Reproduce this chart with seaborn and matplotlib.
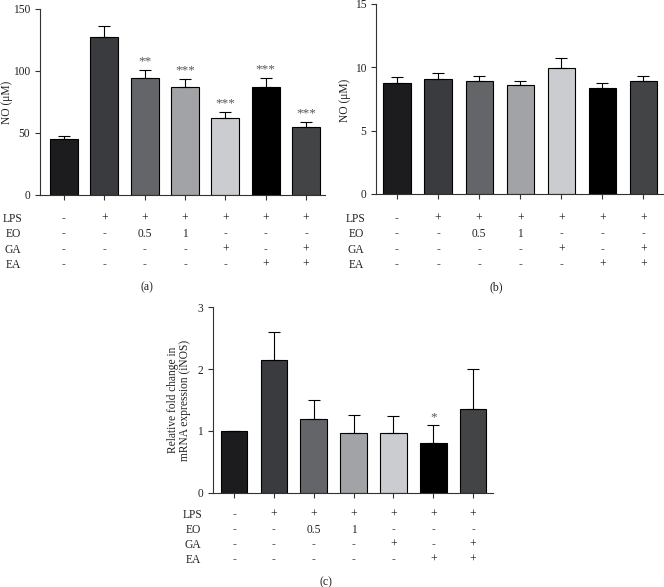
import seaborn as sns
import matplotlib.pyplot as plt
import matplotlib.transforms as mtransforms
import pandas as pd
import numpy as np

# groups and treatment table
groups = ['g1', 'g2', 'g3', 'g4', 'g5', 'g6', 'g7']
bar_colors = ['#1c1c1e', '#3a3b3f', '#646568', '#a1a3a6', '#cbcccf', '#000000', '#434446']
row_names = ['LPS', 'EO', 'GA', 'EA']
lps = ['-', '+', '+', '+', '+', '+', '+']
eo = ['-', '-', '0.5', '1', '-', '-', '-']
ga = ['-', '-', '-', '-', '+', '-', '+']
ea = ['-', '-', '-', '-', '-', '+', '+']

# panel a - NO production
no_a = [44.9, 127.7, 94.4, 86.8, 62.4, 86.8, 55.1]
no_a_err = [2.9, 8.6, 6.7, 6.7, 4.3, 7.6, 3.5]
stars_a = ['', '', '**', '***', '***', '***', '***']

# panel b - NO
no_b = [8.79, 9.10, 8.89, 8.60, 9.92, 8.34, 8.89]
no_b_err = [0.42, 0.45, 0.40, 0.29, 0.78, 0.45, 0.40]

# panel c - iNOS mRNA
inos = [1.0, 2.15, 1.19, 0.97, 0.97, 0.81, 1.36]
inos_err = [0.0, 0.45, 0.31, 0.28, 0.27, 0.29, 0.64]
stars_c = ['', '', '', '', '', '*', '']

sns.set_style('ticks')
plt.rcParams['font.family'] = ['Liberation Serif', 'DejaVu Serif']
plt.rcParams['font.size'] = 8
txt_col = '#222222'
fs = 8.3

W, H = 664, 587
fig = plt.figure(figsize=(W / 100, H / 100), dpi=100)


def panel(rect, vals, errs, ylim, yticks, xlim, width, stars, star_off):
    ax = fig.add_axes(rect)
    df = pd.DataFrame({'group': groups, 'val': vals})
    sns.barplot(data=df, x='group', y='val', hue='group', palette=dict(zip(groups, bar_colors)),
                legend=False, errorbar=None, saturation=1, width=width,
                edgecolor='black', linewidth=0.8, ax=ax)
    pos = np.arange(len(groups))
    ax.errorbar(pos, vals, yerr=[np.zeros(len(vals)), errs], fmt='none', ecolor='black',
                elinewidth=0.8, capsize=4, capthick=0.8, zorder=5)
    for p, v, e, s in zip(pos, vals, errs, stars):
        if s:
            ax.annotate(s, (p, v + e), xytext=(0, star_off), textcoords='offset points',
                        ha='center', va='bottom', fontsize=9.5, color='#555555')
    ax.set_ylim(*ylim)
    ax.set_yticks(yticks)
    ax.set_xlim(*xlim)
    ax.set_xticks(pos)
    ax.set_xticklabels([])
    ax.set_xlabel('')
    ax.set_ylabel('')
    sns.despine(ax=ax)
    for sp in ['left', 'bottom']:
        ax.spines[sp].set_linewidth(0.8)
        ax.spines[sp].set_color('#333333')
    ax.tick_params(axis='both', length=3.5, width=0.8, colors='#333333', labelcolor=txt_col,
                   labelsize=fs)
    return ax


def table(ax, label_x, row_ys, tag, tag_x, tag_y):
    tr = mtransforms.blended_transform_factory(ax.transData, fig.transFigure)
    rows = [lps, eo, ga, ea]
    for name, row, ry in zip(row_names, rows, row_ys):
        fig.text(label_x / W, 1 - ry / H, name, ha='center', va='center', color=txt_col,
                 fontsize=fs)
        for i, t in enumerate(row):
            col = '#666666' if t == '-' else txt_col
            ax.text(i, 1 - ry / H, t, transform=tr, ha='center', va='center', color=col,
                    fontsize=fs, clip_on=False)
    fig.text(tag_x / W, 1 - tag_y / H, tag, ha='center', va='center', color=txt_col,
             fontsize=8.5)


# (a)
ax_a = panel([40 / W, 1 - 195 / H, 285 / W, 186 / H], no_a, no_a_err, (0, 150),
             [0, 50, 100, 150], (-0.595, 6.47), 0.69, stars_a, 2)
fig.text(7 / W, 1 - 102 / H, 'NO (μM)', rotation=90, ha='center', va='center',
         color=txt_col, fontsize=fs)
table(ax_a, 13, [219, 234, 250, 265], '(a)', 147, 287)

# (b)
ax_b = panel([376 / W, 1 - 194 / H, 288 / W, 190 / H], no_b, no_b_err, (0, 15),
             [0, 5, 10, 15], (-0.51, 6.5), 0.66, [''] * 7, 2)
fig.text(345 / W, 1 - 100 / H, 'NO (μM)', rotation=90, ha='center', va='center',
         color=txt_col, fontsize=fs)
table(ax_b, 356, [219, 234, 250, 265], '(b)', 496, 287)

# (c)
ax_c = panel([213 / W, 1 - 492.7 / H, 280 / W, 185.4 / H], inos, inos_err, (0, 3),
             [0, 1, 2, 3], (-0.53, 6.5), 0.67, stars_c, 1)
fig.text(179 / W, 1 - 400 / H, 'Relative fold change in\nmRNA expression (iNOS)', rotation=90,
         ha='center', va='center', color=txt_col, fontsize=fs, linespacing=1.0)
table(ax_c, 193, [515, 530, 545, 560], '(c)', 326, 582)

fig.savefig('out.png', dpi=100)
